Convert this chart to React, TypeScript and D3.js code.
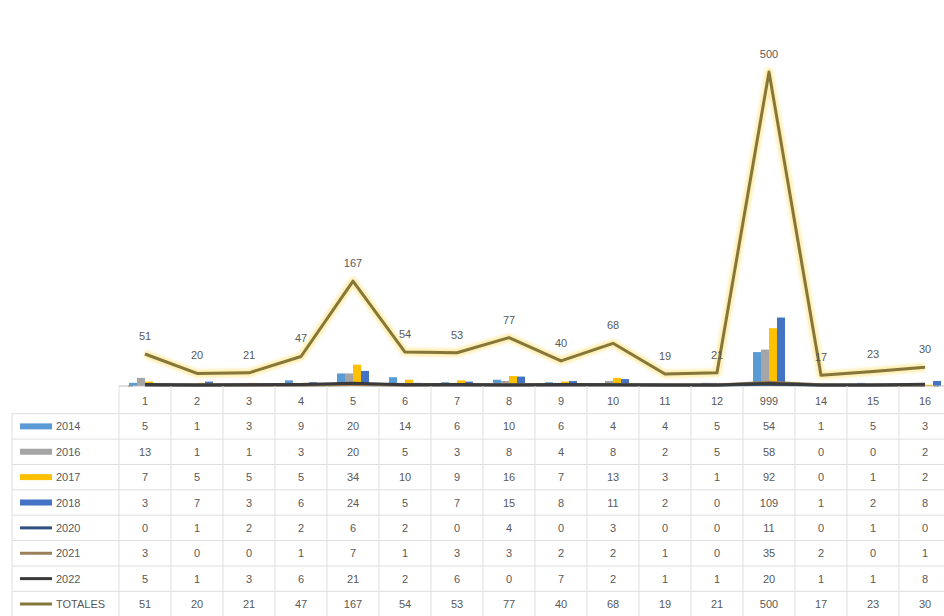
import React from "react";
import * as d3 from "d3";

// Categories along the horizontal axis
const categories = ["1", "2", "3", "4", "5", "6", "7", "8", "9", "10", "11", "12", "999", "14", "15", "16"];

// Column series
const v2014 = [5, 1, 3, 9, 20, 14, 6, 10, 6, 4, 4, 5, 54, 1, 5, 3];
const v2016 = [13, 1, 1, 3, 20, 5, 3, 8, 4, 8, 2, 5, 58, 0, 0, 2];
const v2017 = [7, 5, 5, 5, 34, 10, 9, 16, 7, 13, 3, 1, 92, 0, 1, 2];
const v2018 = [3, 7, 3, 6, 24, 5, 7, 15, 8, 11, 2, 0, 109, 1, 2, 8];

// Line series (secondary axis)
const v2020 = [0, 1, 2, 2, 6, 2, 0, 4, 0, 3, 0, 0, 11, 0, 1, 0];
const v2021 = [3, 0, 0, 1, 7, 1, 3, 3, 2, 2, 1, 0, 35, 2, 0, 1];
const v2022 = [5, 1, 3, 6, 21, 2, 6, 0, 7, 2, 1, 1, 20, 1, 1, 8];

// Totals line (primary axis, labelled)
const totales = [51, 20, 21, 47, 167, 54, 53, 77, 40, 68, 19, 21, 500, 17, 23, 30];

type Series = { name: string; values: number[]; color: string; kind: "bar" | "line"; axis?: "primary" | "secondary"; width?: number };

const series: Series[] = [
  { name: "2014", values: v2014, color: "#5B9BD5", kind: "bar" },
  { name: "2016", values: v2016, color: "#A5A5A5", kind: "bar" },
  { name: "2017", values: v2017, color: "#FFC000", kind: "bar" },
  { name: "2018", values: v2018, color: "#4472C4", kind: "bar" },
  { name: "2020", values: v2020, color: "#2F4F7F", kind: "line", axis: "secondary", width: 3 },
  { name: "2021", values: v2021, color: "#9C7F58", kind: "line", axis: "secondary", width: 3 },
  { name: "2022", values: v2022, color: "#3A3A3A", kind: "line", axis: "secondary", width: 3 },
  { name: "TOTALES", values: totales, color: "#85763A", kind: "line", axis: "primary", width: 3 },
];

const W = 944;
const H = 616;
const FONT = "'Liberation Sans', Arial, sans-serif";
const TEXT = "#595959";

export default function App() {
  const x = d3.scaleBand<string>().domain(categories).range([119, 119 + categories.length * 52]).padding(0);
  const y = d3.scaleLinear().domain([0, 500]).range([386, 72]);
  const y2 = d3.scaleLinear().domain([0, 4000]).range([385, 72]);

  const barSeries = series.filter((s) => s.kind === "bar");
  const lineSeries = series.filter((s) => s.kind === "line");

  const x1 = d3
    .scaleBand<string>()
    .domain(barSeries.map((s) => s.name))
    .range([0, x.bandwidth()])
    .paddingInner(0)
    .paddingOuter(1.25);

  const cx = (c: string) => (x(c) ?? 0) + x.bandwidth() / 2;

  // Table rows: header + one per series
  const rowY = d3.scaleLinear().domain([0, 8]).range([401, 604]);
  const rowH = rowY(1) - rowY(0);

  const gridColor = "#DEDEDE";
  const left = 12;
  const right = W;

  return (
    <svg width={W} height={H} style={{ position: "absolute", left: 0, top: 0, background: "#fff" }} fontFamily={FONT}>
      <defs>
        <filter id="glow" x="-10%" y="-10%" width="120%" height="120%">
          <feGaussianBlur stdDeviation="1.8" />
        </filter>
      </defs>

      {/* bars */}
      {barSeries.map((s) => (
        <g key={s.name}>
          {s.values.map((v, i) => {
            const c = categories[i];
            return (
              <rect
                key={c}
                x={(x(c) ?? 0) + (x1(s.name) ?? 0)}
                y={y(v)}
                width={x1.bandwidth()}
                height={y(0) - y(v)}
                fill={s.color}
              />
            );
          })}
        </g>
      ))}

      {/* axis line */}
      <line x1={119} x2={W} y1={y(0)} y2={y(0)} stroke="#BFBFBF" strokeWidth={1} />
      <line x1={128} x2={133} y1={y(0)} y2={y(0)} stroke="#8C8C8C" strokeWidth={1} />
      <line x1={934} x2={939} y1={y(0)} y2={y(0)} stroke="#8C8C8C" strokeWidth={1} />

      {/* lines */}
      {lineSeries.map((s) => {
        const sc = s.axis === "secondary" ? y2 : y;
        const gen = d3
          .line<number>()
          .x((_, i) => cx(categories[i]))
          .y((v) => sc(v));
        const d = gen(s.values) ?? "";
        return (
          <g key={s.name}>
            {s.name === "TOTALES" && (
              <path d={d} fill="none" stroke="#FFE58A" strokeOpacity={0.7} strokeWidth={8} strokeLinejoin="round" filter="url(#glow)" />
            )}
            <path d={d} fill="none" stroke={s.color} strokeWidth={s.width} strokeLinejoin="round" />
          </g>
        );
      })}

      {/* data labels on totals */}
      {totales.map((v, i) => (
        <text key={i} x={cx(categories[i])} y={y(v) - 14} textAnchor="middle" fontSize={11} fill={TEXT}>
          {v}
        </text>
      ))}

      {/* data table grid */}
      <g stroke={gridColor} strokeWidth={1}>
        {d3.range(1, 9).map((r) => (
          <line key={"h" + r} x1={left} x2={right} y1={rowY(r) - rowH / 2} y2={rowY(r) - rowH / 2} />
        ))}
        <line x1={left} x2={left} y1={rowY(1) - rowH / 2} y2={H} />
        {categories.map((c) => (
          <line key={"v" + c} x1={x(c) ?? 0} x2={x(c) ?? 0} y1={y(0)} y2={H} />
        ))}
      </g>

      {/* category header row */}
      {categories.map((c) => (
        <text key={c} x={cx(c)} y={rowY(0) + 4} textAnchor="middle" fontSize={11} fill={TEXT}>
          {c}
        </text>
      ))}

      {/* series rows */}
      {series.map((s, r) => {
        const yy = rowY(r + 1);
        return (
          <g key={s.name}>
            {s.kind === "bar" ? (
              <rect x={20} y={yy - 3} width={32} height={6} fill={s.color} />
            ) : (
              <g>
                {s.name === "TOTALES" && (
                  <line x1={20} x2={52} y1={yy} y2={yy} stroke="#FFE58A" strokeWidth={8} strokeOpacity={0.7} filter="url(#glow)" />
                )}
                <line x1={20} x2={52} y1={yy} y2={yy} stroke={s.color} strokeWidth={s.width} />
              </g>
            )}
            <text x={56} y={yy + 4} fontSize={11} fill={TEXT}>
              {s.name}
            </text>
            {s.values.map((v, i) => (
              <text key={i} x={cx(categories[i])} y={yy + 4} textAnchor="middle" fontSize={11} fill={TEXT}>
                {v}
              </text>
            ))}
          </g>
        );
      })}
    </svg>
  );
}
